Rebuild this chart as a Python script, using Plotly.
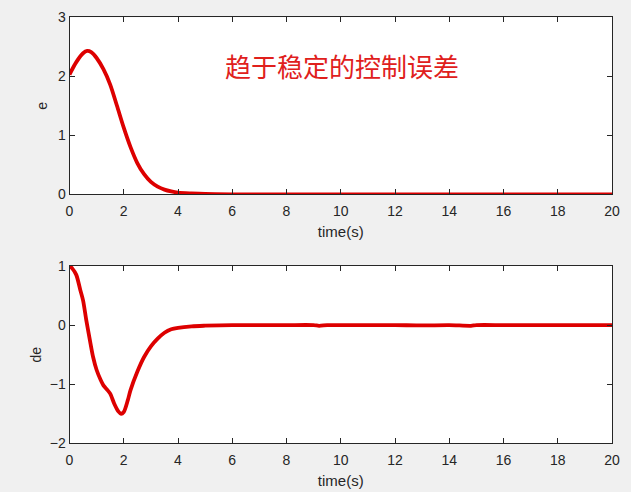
import plotly.graph_objects as go

# ---- data ----
t_e = [0, 0.25, 0.5, 0.65, 0.8, 1.0, 1.25, 1.5, 1.75, 2.0, 2.25, 2.5, 2.75, 3.0,
       3.25, 3.5, 3.75, 4.0, 4.5, 5.0, 6, 8, 10, 12, 14, 16, 18, 20]
e_vals = [2.03, 2.24, 2.39, 2.43, 2.41, 2.31, 2.12, 1.86, 1.50, 1.13, 0.80, 0.53, 0.34, 0.21,
          0.13, 0.08, 0.05, 0.03, 0.015, 0.005, 0, 0, 0, 0, 0, 0, 0, 0]

t_de = [0, 0.1, 0.25, 0.4, 0.5, 0.62, 0.75, 0.87, 1.0, 1.15, 1.25, 1.4, 1.5, 1.65, 1.8, 1.9,
        2.0, 2.15, 2.25, 2.5, 2.75, 3.0, 3.25, 3.5, 3.75, 4.0, 4.5, 5.0, 6, 7, 8, 9, 9.2, 9.5,
        10, 11, 12, 13, 14, 14.8, 15, 16, 17, 18, 19, 20]
de_vals = [1.0, 0.96, 0.85, 0.59, 0.42, 0.08, -0.25, -0.54, -0.76, -0.93, -1.02, -1.1, -1.16,
           -1.33, -1.46, -1.5, -1.47, -1.27, -1.1, -0.79, -0.54, -0.36, -0.23, -0.13, -0.07,
           -0.045, -0.02, -0.01, 0, 0, 0, 0, -0.012, 0, 0, 0, 0, -0.006, 0, -0.012, 0, 0, 0, 0, 0, 0]

x_ticks = [0, 2, 4, 6, 8, 10, 12, 14, 16, 18, 20]
e_ticks = [0, 1, 2, 3]
de_ticks = [-2, -1, 0, 1]
annot_text = "趋于稳定的控制误差"
x_label = "time(s)"

RED = "#dd0000"
AX = "#262626"
FONT = "Liberation Sans, Arial, sans-serif"

fig = go.Figure()
fig.add_trace(go.Scatter(x=t_e, y=e_vals, mode="lines", line=dict(color=RED, width=3.8, shape="spline", smoothing=0.8),
                         xaxis="x", yaxis="y", showlegend=False))
fig.add_trace(go.Scatter(x=t_de, y=de_vals, mode="lines", line=dict(color=RED, width=3.8, shape="spline", smoothing=0.8),
                         xaxis="x2", yaxis="y2", showlegend=False))

W, H = 631, 492
xd = [69.5 / W, 612 / W]
y1d = [(H - 194.3) / H, (H - 17.3) / H]
y2d = [(H - 443.3) / H, (H - 266) / H]

axcommon = dict(showline=True, linecolor=AX, linewidth=1, mirror="ticks", ticks="inside",
                ticklen=5, tickcolor=AX, tickwidth=1, showgrid=False, zeroline=False,
                tickfont=dict(family=FONT, size=14, color=AX))
tfont = dict(family=FONT, size=14, color=AX)
xtfont = dict(family=FONT, size=15, color=AX)

fig.update_layout(
    width=W, height=H,
    paper_bgcolor="#f0f0f0", plot_bgcolor="white",
    margin=dict(l=0, r=0, t=0, b=0, autoexpand=False),
    xaxis=dict(domain=xd, anchor="y", range=[0, 20], tickvals=x_ticks, ticklabelstandoff=4,
               title=dict(text=x_label, font=xtfont, standoff=8), **axcommon),
    yaxis=dict(domain=y1d, anchor="x", range=[0, 3], tickvals=e_ticks,
               title=dict(text="e", font=tfont, standoff=7), **axcommon),
    xaxis2=dict(domain=xd, anchor="y2", range=[0, 20], tickvals=x_ticks, ticklabelstandoff=4,
                title=dict(text=x_label, font=xtfont, standoff=8), **axcommon),
    yaxis2=dict(domain=y2d, anchor="x2", range=[-2, 1], tickvals=de_ticks,
                title=dict(text="de", font=tfont, standoff=4), **axcommon),
    annotations=[dict(text=annot_text, x=5.65, y=2.19, xref="x", yref="y", xanchor="left", yanchor="middle",
                      showarrow=False, font=dict(family="Noto Sans CJK SC", size=26, color="#e0201c"))],
)

fig.write_html("out.html", config={"displayModeBar": False},
               post_script="document.body.style.margin='0px';document.body.style.overflow='hidden';")
